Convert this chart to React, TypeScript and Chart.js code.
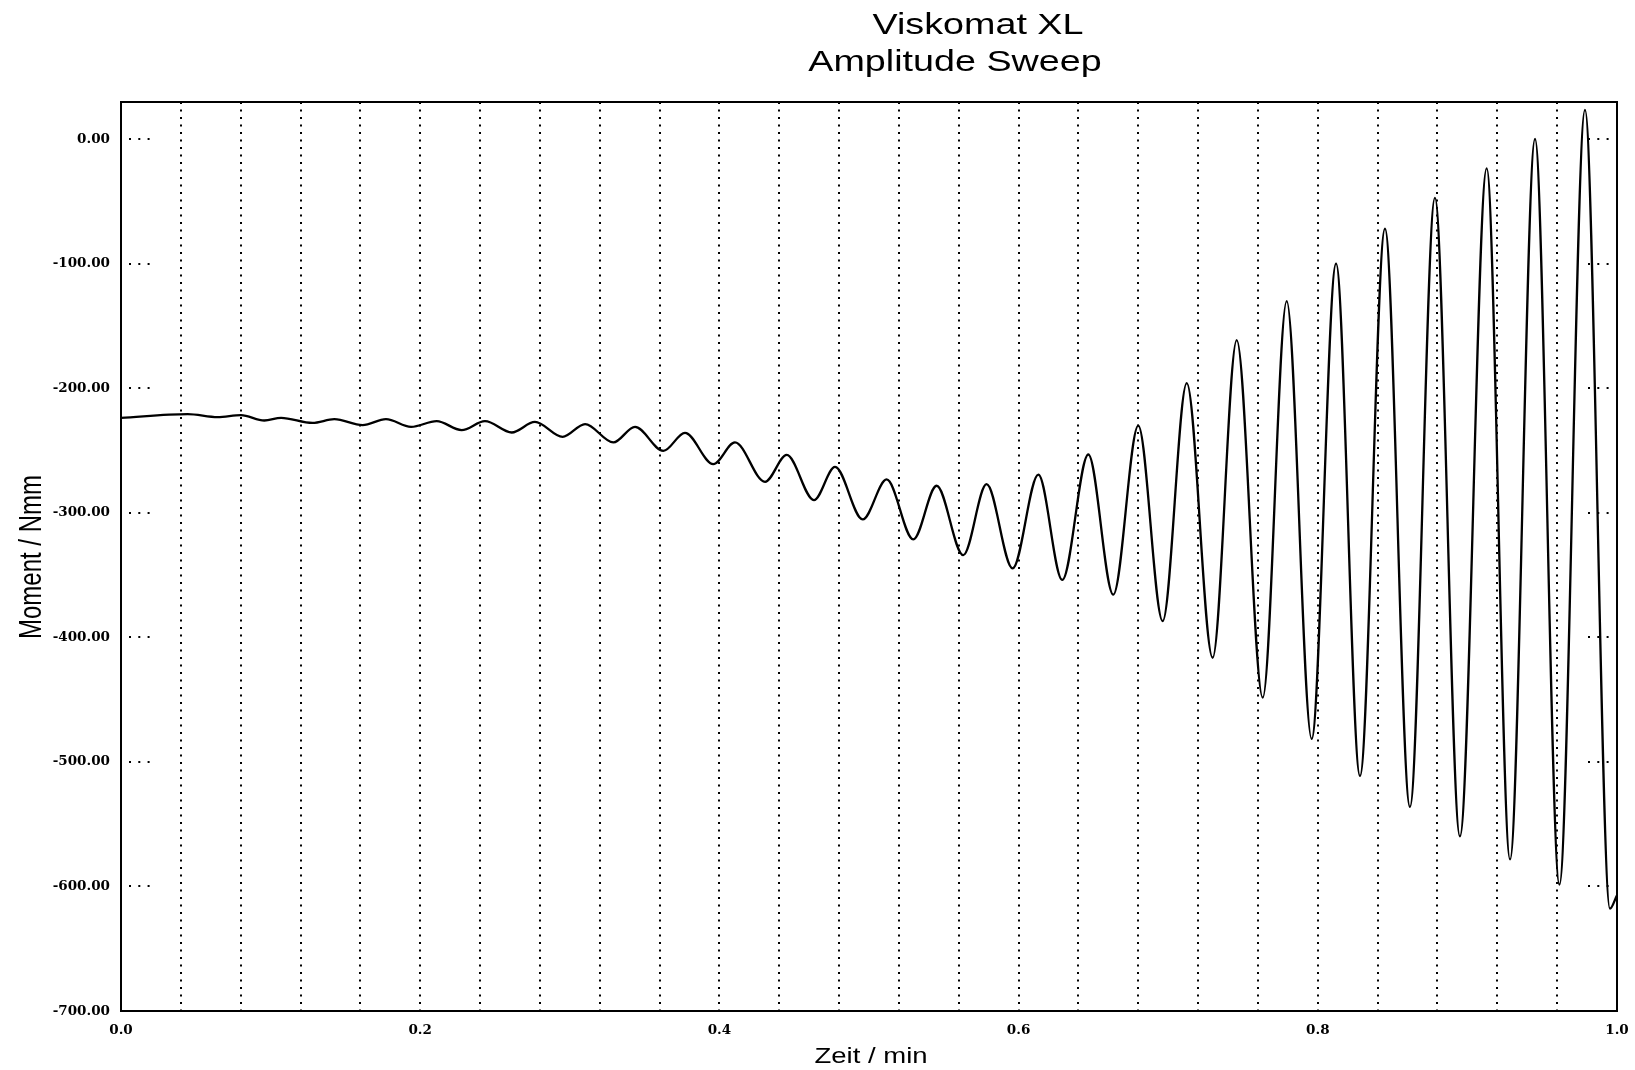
import React, { useEffect, useRef } from 'react';
import { Chart, registerables } from 'chart.js';

Chart.register(...registerables);

const TITLE_LINE_1 = 'Viskomat XL';
const TITLE_LINE_2 = 'Amplitude Sweep';
const X_TITLE = 'Zeit / min';
const Y_TITLE = 'Moment / Nmm';

// Turning points of the measured curve (time in min, torque in Nmm)
const timeMin = [
  0, 0.0446, 0.0646, 0.0802, 0.0958, 0.107, 0.128, 0.1426, 0.1615, 0.1771,
  0.1939, 0.211, 0.2277, 0.2433, 0.2612, 0.2767, 0.2952, 0.3102, 0.3291, 0.3436,
  0.3625, 0.377, 0.3959, 0.4104, 0.4305, 0.445, 0.4632, 0.4773, 0.4958, 0.5118,
  0.5296, 0.5452, 0.563, 0.5786, 0.596, 0.6132, 0.6292, 0.6466, 0.6633, 0.68,
  0.6963, 0.7124, 0.7297, 0.7458, 0.7632, 0.7792, 0.7959, 0.8122, 0.8282, 0.8449,
  0.8616, 0.8783, 0.895, 0.9129, 0.9285, 0.9452, 0.9615, 0.9786, 0.9953, 1.0,
];
const momentNmm = [
  -223.6, -220.7, -223.1, -221.5, -225.8, -223.6, -227.7, -224.7, -229.5, -224.7,
  -230.9, -226.3, -233.5, -226.3, -235.4, -226.9, -238.9, -228.7, -243.4, -230.9,
  -250.2, -235.7, -260.8, -243.4, -275.0, -253.4, -289.7, -263.0, -305.2, -273.1,
  -321.3, -278.2, -333.9, -276.9, -344.6, -269.3, -353.8, -253.1, -365.6, -229.9,
  -386.9, -195.7, -416.3, -161.3, -448.4, -129.9, -481.5, -99.8, -511.2, -71.8,
  -536.1, -47.0, -559.8, -23.3, -578.3, 0.3, -598.5, 23.6, -617.8, -607.0,
];

const xGridTicks = [
  0, 0.04, 0.08, 0.12, 0.16, 0.2, 0.24, 0.28, 0.32, 0.36, 0.4, 0.44, 0.48,
  0.52, 0.56, 0.6, 0.64, 0.68, 0.72, 0.76, 0.8, 0.84, 0.88, 0.92, 0.96, 1.0,
];
const xLabelTicks = [0, 0.2, 0.4, 0.6, 0.8, 1.0];
const yTicks = [0, -100, -200, -300, -400, -500, -600, -700];

const Y_MIN = -700;
const Y_MAX = 30;

function drawStretched(ctx: CanvasRenderingContext2D, text: string, cx: number, baseline: number, font: string, sx: number) {
  ctx.save();
  ctx.font = font;
  ctx.fillStyle = '#000';
  ctx.textAlign = 'center';
  ctx.textBaseline = 'alphabetic';
  ctx.translate(cx, baseline);
  ctx.scale(sx, 1);
  ctx.fillText(text, 0, 0);
  ctx.restore();
}

const decorPlugin = {
  id: 'decor',
  afterDraw(chart: any) {
    const { ctx, chartArea: a, scales } = chart;
    const y = scales.y;
    ctx.save();
    // frame
    ctx.strokeStyle = '#000';
    ctx.lineWidth = 2;
    ctx.setLineDash([]);
    ctx.strokeRect(a.left, a.top, a.right - a.left, a.bottom - a.top);
    // short dotted tick marks at each y tick, inside left and right edges
    ctx.lineWidth = 2;
    ctx.setLineDash([2, 7.3]);
    for (const v of yTicks) {
      if (v === Y_MIN) continue;
      const py = Math.round(y.getPixelForValue(v));
      ctx.beginPath();
      ctx.moveTo(a.left + 8, py);
      ctx.lineTo(a.left + 30, py);
      ctx.stroke();
      ctx.beginPath();
      ctx.moveTo(a.right - 29, py);
      ctx.lineTo(a.right - 7, py);
      ctx.stroke();
    }
    ctx.setLineDash([]);
    ctx.restore();

    // titles
    drawStretched(ctx, TITLE_LINE_1, 978, 34, '29px "Liberation Sans", Arial, sans-serif', 1.3);
    drawStretched(ctx, TITLE_LINE_2, 955, 71, '29px "Liberation Sans", Arial, sans-serif', 1.3);
    drawStretched(ctx, X_TITLE, (a.left + a.right) / 2 + 2, 1063, '22px "Liberation Sans", Arial, sans-serif', 1.25);

    ctx.save();
    ctx.font = '24px "Liberation Sans", Arial, sans-serif';
    ctx.fillStyle = '#000';
    ctx.textAlign = 'center';
    ctx.textBaseline = 'alphabetic';
    ctx.translate(41, (a.top + a.bottom) / 2 + 0.5);
    ctx.scale(1.3, 1);
    ctx.rotate(-Math.PI / 2);
    ctx.fillText(Y_TITLE, 0, 0);
    ctx.restore();
  },
};

export default function App() {
  const canvasRef = useRef<HTMLCanvasElement | null>(null);

  useEffect(() => {
    const canvas = canvasRef.current;
    if (!canvas) return;
    const points = timeMin.map((t, i) => ({ x: t, y: momentNmm[i] }));
    const tickFont = { family: '"DejaVu Serif", serif', size: 13.5, weight: 'bold' as const };

    const chart = new Chart(canvas, {
      type: 'line',
      data: {
        datasets: [
          {
            data: points,
            borderColor: '#000',
            borderWidth: 2.3,
            pointRadius: 0,
            fill: false,
            cubicInterpolationMode: 'monotone',
          },
        ],
      },
      options: {
        animation: false,
        responsive: false,
        devicePixelRatio: 1,
        layout: { padding: { left: 0, right: 18, top: 102, bottom: 0 } },
        plugins: {
          legend: { display: false },
          tooltip: { enabled: false },
          title: { display: false },
        },
        scales: {
          x: {
            type: 'linear',
            min: 0,
            max: 1,
            afterBuildTicks: (s: any) => {
              s.ticks = xGridTicks.map((v) => ({ value: v }));
            },
            afterFit: (s: any) => {
              s.height = 59;
              s.paddingLeft = 0;
              s.paddingRight = 0;
            },
            grid: { display: true, drawTicks: false, color: '#000', lineWidth: 2 },
            border: { display: false, dash: [2, 5.5] },
            ticks: {
              autoSkip: false,
              maxRotation: 0,
              minRotation: 0,
              padding: 11,
              color: '#000',
              font: tickFont,
              callback: (value: any) => {
                const v = Number(value);
                return xLabelTicks.some((l) => Math.abs(l - v) < 1e-6) ? v.toFixed(1) : '';
              },
            },
          },
          y: {
            type: 'linear',
            min: Y_MIN,
            max: Y_MAX,
            afterBuildTicks: (s: any) => {
              s.ticks = yTicks.map((v) => ({ value: v }));
            },
            afterFit: (s: any) => {
              s.width = 121;
              s.paddingTop = 0;
              s.paddingBottom = 0;
            },
            grid: { display: false, drawTicks: false },
            border: { display: false },
            ticks: {
              padding: 11,
              color: '#000',
              font: tickFont,
              callback: (value: any) => Number(value).toFixed(2),
            },
          },
        },
      },
      plugins: [decorPlugin],
    } as any);

    return () => chart.destroy();
  }, []);

  return (
    <div style={{ position: 'absolute', left: 0, top: 0, width: 1635, height: 1070, background: '#fff' }}>
      <canvas ref={canvasRef} width={1635} height={1070} style={{ display: 'block' }} />
    </div>
  );
}
